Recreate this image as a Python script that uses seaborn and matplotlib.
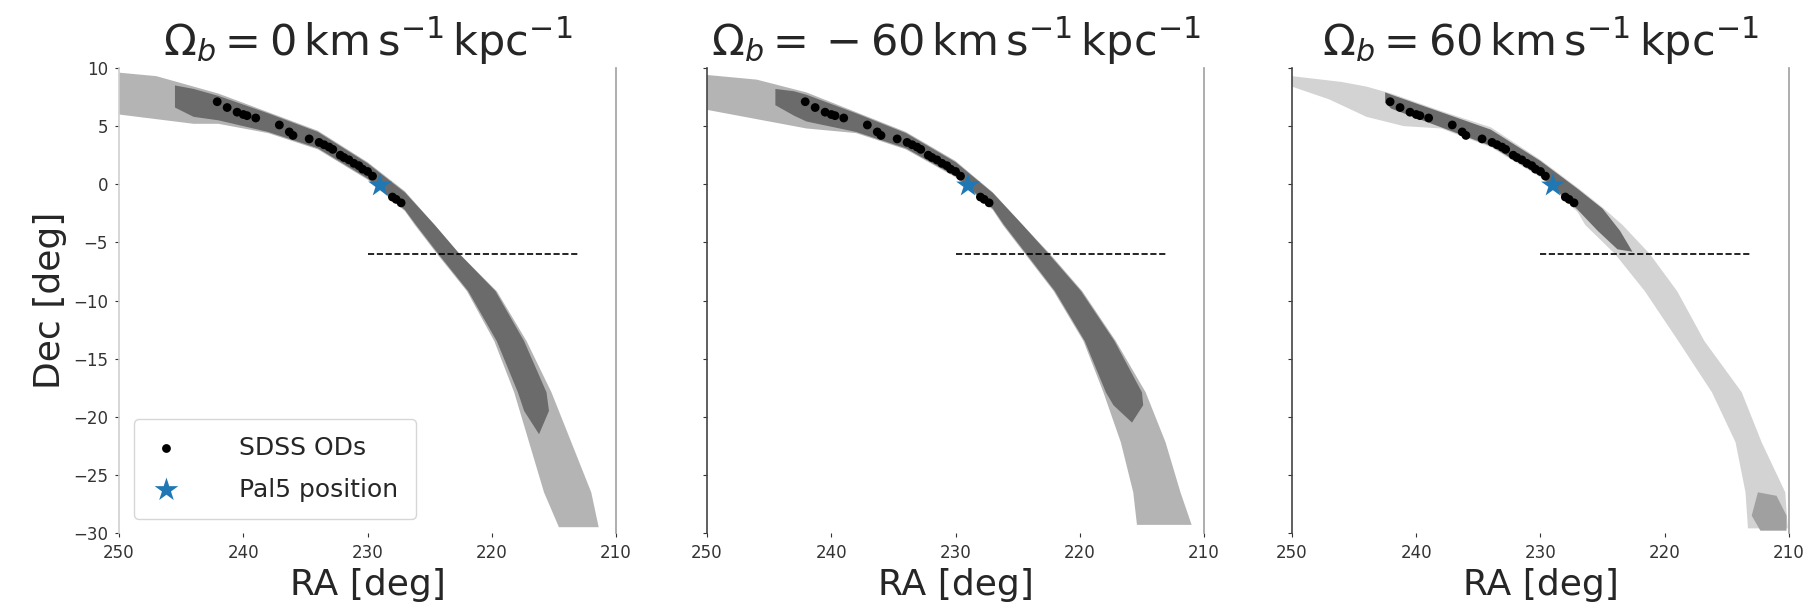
import matplotlib
matplotlib.use("Agg")
import matplotlib.pyplot as plt
import seaborn as sns
import pandas as pd

# ---------------- data ----------------
titles = [r"$\Omega_b = 0\,\mathrm{km\,s^{-1}\,kpc^{-1}}$",
          r"$\Omega_b = {}-60\,\mathrm{km\,s^{-1}\,kpc^{-1}}$",
          r"$\Omega_b = 60\,\mathrm{km\,s^{-1}\,kpc^{-1}}$"]

x_ticks = [250, 240, 230, 220, 210]
y_ticks = [10, 5, 0, -5, -10, -15, -20, -25, -30]

# SDSS overdensities (RA, Dec) in degrees
od_ra = [242.1, 241.3, 240.5, 240.0, 239.7, 239.0, 237.1, 236.3, 236.0, 234.7,
         233.9, 233.5, 233.1, 232.8, 232.2, 231.9, 231.5, 231.1, 230.7, 230.4,
         230.0, 229.6, 228.0, 227.7, 227.3]
od_dec = [7.1, 6.6, 6.2, 6.0, 5.9, 5.7, 5.1, 4.5, 4.2, 3.9,
          3.6, 3.4, 3.2, 3.0, 2.5, 2.3, 2.1, 1.8, 1.6, 1.3,
          1.1, 0.7, -1.1, -1.3, -1.6]

pal5_ra = [229.0]
pal5_dec = [-0.1]

cut_ra = [230.0, 213.0]
cut_dec = [-6.0, -6.0]

# stream edges, panel 1 (Omega_b = 0): sparse envelope and dense core
p1_env_up = [(250, 9.6), (247, 9.3), (244, 8.4), (242, 7.8), (238, 6.2), (234, 4.6),
             (230, 1.9), (227, -0.6), (224.6, -3.5), (222.6, -6), (219.6, -9.2),
             (217.2, -13.5), (215.2, -17.9), (213.6, -22.2), (212.0, -26.5), (211.4, -29.5)]
p1_env_lo = [(250, 6.0), (247, 5.6), (244, 5.2), (242, 5.2), (238, 4.4), (234, 3.0),
             (230, 0.4), (227, -2.3), (226.2, -3.5), (224.4, -6), (222.0, -9.2),
             (219.8, -13.5), (218.2, -17.9), (217.0, -22.2), (215.8, -26.5), (214.6, -29.5)]
p1_core_up = [(245.5, 8.5), (244, 8.2), (242, 7.6), (238, 6.1), (234, 4.5), (230, 1.8),
              (227, -0.7), (224.6, -3.5), (222.6, -6), (219.7, -9.2), (217.4, -13.5),
              (215.6, -17.9), (215.4, -19.5), (216.2, -21.5)]
p1_core_lo = [(245.5, 6.6), (244, 5.8), (242, 5.5), (238, 4.5), (234, 3.1), (230, 0.5),
              (227, -2.2), (226.1, -3.5), (224.3, -6), (221.9, -9.2), (219.6, -13.5),
              (217.9, -17.9), (217.4, -19.5), (216.2, -21.5)]

# panel 2 (Omega_b = -60)
p2_env_up = [(250, 9.4), (246, 9.0), (242, 7.9), (238, 6.2), (234, 4.5), (230, 2.0),
             (227, -0.7), (224.6, -3.5), (222.4, -6), (219.8, -9.2), (217.1, -13.5),
             (214.7, -17.9), (213.1, -22.2), (211.9, -26.5), (211.0, -29.3)]
p2_env_lo = [(250, 6.4), (246, 5.6), (242, 4.8), (238, 4.4), (234, 3.0), (230, 0.6),
             (227, -2.2), (226.2, -3.5), (224.4, -6), (222.1, -9.2), (219.7, -13.5),
             (218.1, -17.9), (216.7, -22.2), (215.7, -26.5), (215.4, -29.3)]
p2_core_up = [(244.5, 8.2), (243, 8.0), (242, 7.7), (238, 6.1), (234, 4.4), (230, 1.9),
              (227, -0.75), (224.6, -3.5), (222.5, -6), (219.9, -9.2), (217.2, -13.5),
              (215.0, -17.9), (214.9, -19.0), (215.8, -20.5)]
p2_core_lo = [(244.5, 6.8), (243, 5.9), (242, 5.4), (238, 4.5), (234, 3.1), (230, 0.7),
              (227, -2.1), (226.1, -3.5), (224.3, -6), (222.0, -9.2), (219.6, -13.5),
              (217.9, -17.9), (217.3, -19.0), (215.8, -20.5)]

# panel 3 (Omega_b = 60)
p3_env_up = [(250, 9.3), (246, 8.8), (244, 8.4), (242, 7.8), (238, 6.3), (234, 4.9),
             (230, 2.1), (227, -0.3), (225, -2.0), (223.4, -3.5), (221.2, -6), (219.0, -9.2),
             (216.8, -13.5), (213.8, -17.9), (212.2, -22.2), (210.3, -26.5), (210.1, -29.6)]
p3_env_lo = [(250, 8.4), (247, 7.3), (244, 5.8), (241, 5.0), (238, 4.8), (234, 3.2),
             (230, 0.6), (227, -2.4), (226.4, -3.5), (224.0, -6), (221.6, -9.2),
             (218.9, -13.5), (216.2, -17.9), (214.3, -22.2), (213.5, -26.5), (213.3, -29.6)]
p3_core_up = [(242.5, 7.9), (242, 7.7), (238, 6.2), (234, 4.7), (230, 2.0), (227, -0.4),
              (225, -2.1), (223.6, -4.0), (222.6, -5.8)]
p3_core_lo = [(242.5, 7.0), (242, 6.5), (238, 4.9), (234, 3.3), (230, 0.7), (227, -2.2),
              (225.4, -4.0), (223.8, -5.6), (222.6, -5.8)]
p3_clump = [(212.5, -26.5), (211.0, -26.8), (210.2, -28.5), (210.2, -29.8), (212.3, -29.8), (213.0, -28.5)]

# ---------------- figure ----------------
sns.set_theme(style="ticks")
plt.rcParams["font.family"] = ["DejaVu Sans"]
plt.rcParams["mathtext.fontset"] = "dejavusans"

fig = plt.figure(figsize=(18.12, 6.05), dpi=100)
lefts = [0.0657, 0.3902, 0.7130]
axes = [fig.add_axes([l, 0.119, 0.2743, 0.7686]) for l in lefts]

panels = [
    (p1_env_up, p1_env_lo, p1_core_up, p1_core_lo, "#b4b4b4", None),
    (p2_env_up, p2_env_lo, p2_core_up, p2_core_lo, "#b4b4b4", None),
    (p3_env_up, p3_env_lo, p3_core_up, p3_core_lo, "#d3d3d3", p3_clump),
]


def band(ax, upper, lower, color):
    pts = list(upper) + list(lower)[::-1]
    ax.fill([p[0] for p in pts], [p[1] for p in pts], color=color, lw=0, zorder=1)


for i, ax in enumerate(axes):
    env_up, env_lo, core_up, core_lo, env_col, clump = panels[i]
    band(ax, env_up, env_lo, env_col)
    band(ax, core_up, core_lo, "#6b6b6b")
    if clump is not None:
        ax.fill([p[0] for p in clump], [p[1] for p in clump], color="#a0a0a0", lw=0, zorder=1)

    ax.plot(cut_ra, cut_dec, ls="--", color="black", lw=1.2, zorder=2)

    od = pd.DataFrame({"RA": od_ra, "Dec": od_dec})
    sns.scatterplot(data=od, x="RA", y="Dec", color="black", s=40, edgecolor="none",
                    ax=ax, zorder=3, label="SDSS ODs" if i == 0 else None, legend=(i == 0))
    sns.scatterplot(x=pal5_ra, y=pal5_dec, marker="*", s=320, color="#1f77b4",
                    edgecolor="none", ax=ax, zorder=4,
                    label="Pal5 position" if i == 0 else None, legend=(i == 0))

    ax.set_xlim(250, 210)
    ax.set_ylim(-30, 10)
    ax.set_xticks(x_ticks)
    ax.set_yticks(y_ticks)
    ax.set_xticklabels([str(t) for t in x_ticks])
    ax.tick_params(axis="both", labelsize=12, length=3, width=0.8, colors="#333333", pad=5)
    if i == 0:
        ax.set_yticklabels([str(t) if t >= 0 else "\u2212" + str(-t) for t in y_ticks])
        ax.set_ylabel("Dec [deg]", fontsize=26, labelpad=4)
    else:
        ax.set_yticklabels([])
        ax.set_ylabel("")
    ax.set_xlabel("RA [deg]", fontsize=26, labelpad=4)
    ax.set_title(titles[i], fontsize=31, pad=9)

    ax.spines["top"].set_visible(False)
    ax.spines["bottom"].set_visible(False)
    ax.spines["right"].set_visible(True)
    ax.spines["right"].set_color("#a0a0a0")
    ax.spines["left"].set_color("#d0d0d0" if i == 0 else "#444444")
    ax.spines["left"].set_linewidth(1.2)
    ax.spines["right"].set_linewidth(1.2)

leg = axes[0].legend(loc="lower left", bbox_to_anchor=(0.03, 0.03), fontsize=18,
                     frameon=True, borderaxespad=0, handlelength=1.2, handletextpad=2.3,
                     borderpad=0.7, labelspacing=0.7)
leg.get_frame().set_edgecolor("#cccccc")
leg.get_frame().set_linewidth(1.0)

fig.savefig("out.png", dpi=100, facecolor="white")
